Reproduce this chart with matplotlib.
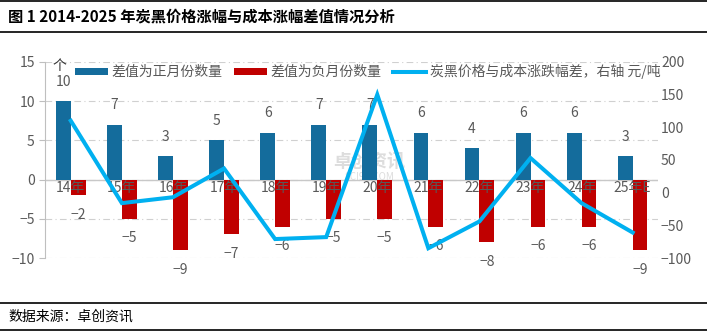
import matplotlib.pyplot as plt
import numpy as np

plt.rcParams['font.family'] = ['Noto Sans CJK SC', 'DejaVu Sans']
plt.rcParams['axes.unicode_minus'] = True

years = ['14年', '15年', '16年', '17年', '18年', '19年', '20年', '21年', '22年', '23年', '24年', '25年E']
pos_months = [10, 7, 3, 5, 6, 7, 7, 6, 4, 6, 6, 3]
neg_months = [-2, -5, -9, -7, -6, -5, -5, -6, -8, -6, -6, -9]
spread = [110, -16, -7, 37, -71, -68, 150, -85, -44, 53, -16, -61]

blue = '#146C9C'
red = '#C00000'
cyan = '#00B0F0'
grey = '#595959'

fig = plt.figure(figsize=(7.07, 3.34), dpi=100)
ax = fig.add_axes([0.064, 0.2275, 0.867, 0.587])
ax2 = ax.twinx()

x = np.arange(len(years))
w = 0.29
b1 = ax.bar(x - w / 2, pos_months, w, color=blue, label='差值为正月份数量', zorder=3)
b2 = ax.bar(x + w / 2, neg_months, w, color=red, label='差值为负月份数量', zorder=3)
ln, = ax2.plot(x, spread, color=cyan, lw=2.9, label='炭黑价格与成本涨跌幅差，右轴 元/吨',
               solid_joinstyle='miter', zorder=4)

# value labels above / below the bars
for xi, v in zip(x, pos_months):
    ax.annotate(str(v), (xi - w / 2, v), xytext=(0, 14), textcoords='offset points',
                ha='center', va='center', fontsize=10, color=grey)
for xi, v in zip(x, neg_months):
    ax.annotate('\u2212' + str(-v), (xi + w / 2, v), xytext=(0, -14), textcoords='offset points',
                ha='center', va='center', fontsize=10, color=grey)

# category names sit just under the zero line
for xi, t in zip(x, years):
    ax.text(xi, -0.2, t, ha='center', va='top', fontsize=10, color=grey, zorder=5)

ax.set_xlim(-0.5, len(years) - 0.5)
ax.set_ylim(-10, 15)
ax.set_yticks(np.arange(-10, 16, 5))
ax2.set_ylim(-100, 200)
ax2.set_yticks(np.arange(-100, 201, 50))
ax.set_xticks([])

for a in (ax, ax2):
    for s in a.spines.values():
        s.set_visible(False)
    a.tick_params(axis='y', labelsize=10, labelcolor=grey, colors='#BFBFBF', length=4, width=0.8)
ax2.tick_params(axis='y', length=0, pad=2)
ax.spines['left'].set_visible(True)
ax.spines['left'].set_color('#BFBFBF')
ax.yaxis.grid(True, color='#D0D0D0', ls=(0, (6, 3, 1, 3)), lw=0.8, zorder=0)
ax.axhline(0, color='#C8C8C8', lw=1, zorder=2)
ax.set_axisbelow(True)

ax.text(-0.35, 14.5, '个', fontsize=10, color='#333333', ha='left', va='center')

# faint watermark
ax.text(5.85, 2.4, '卓创资讯', fontsize=13, color='#DDDDDD', ha='center', va='center', zorder=1,
        fontweight='bold')
ax.text(5.85, 0.35, 'SCI99.COM', fontsize=7, color='#DDDDDD', ha='center', va='center', zorder=1)

fig.legend(handles=[b1, b2, ln], loc='center left', bbox_to_anchor=(0.106, 0.785), ncol=3,
           frameon=False, fontsize=10, handlelength=2.4, handleheight=0.5,
           columnspacing=0.8, handletextpad=0.25, labelcolor=grey, borderpad=0, borderaxespad=0)
for h in fig.legends[0].legend_handles[:2]:
    h.set_height(5)

# title and footer rules
fig.add_artist(plt.Line2D([0, 1], [0.996, 0.996], color='black', lw=1.2))
fig.add_artist(plt.Line2D([0, 1], [0.905, 0.905], color='black', lw=1.2))
fig.text(0.012, 0.952, '图 1 2014-2025 年炭黑价格涨幅与成本涨幅差值情况分析', fontsize=11,
         fontweight='bold', va='center', ha='left', color='black')
fig.add_artist(plt.Line2D([0, 1], [0.093, 0.093], color='black', lw=1.2))
fig.add_artist(plt.Line2D([0, 1], [0.012, 0.012], color='black', lw=1.2))
fig.text(0.012, 0.053, '数据来源：卓创资讯', fontsize=10, va='center', ha='left', color='black')

fig.savefig('out.png', dpi=100)
